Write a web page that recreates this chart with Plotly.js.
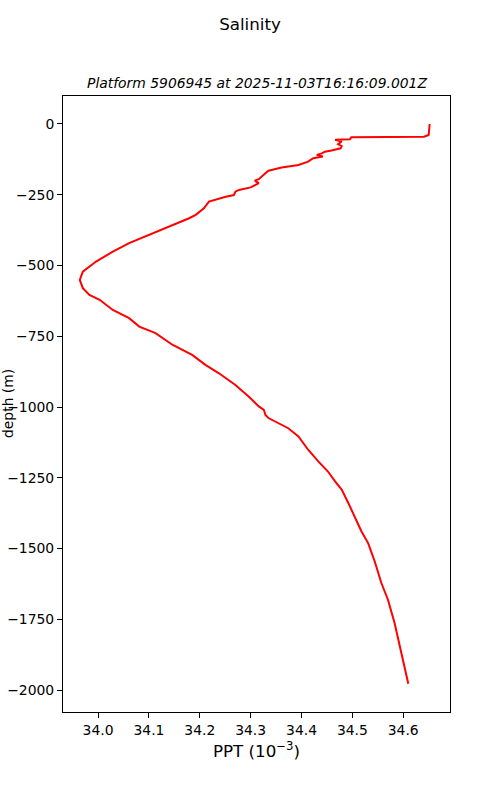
<!DOCTYPE html>
<html>
<head>
<meta charset="utf-8">
<script src="https://cdn.plot.ly/plotly-3.0.1.min.js"></script>
<style>html,body{margin:0;padding:0;background:#fff;}#chart{width:500px;height:800px;}</style>
</head>
<body>
<div id="chart"></div>
<script>
const depth = [0, -39, -45, -47, -54, -56, -62, -71, -78, -86, -94, -98, -104, -109, -115, -121, -133, -145, -154, -165, -174, -195, -200, -209, -224, -233, -239, -251, -257, -274, -298, -321, -333, -363, -386, -421, -451, -486, -522, -551, -580, -604, -621, -657, -686, -716, -739, -780, -816, -851, -880, -922, -963, -998, -1010, -1028, -1039, -1057, -1075, -1104, -1151, -1192, -1228, -1263, -1292, -1339, -1387, -1440, -1481, -1546, -1622, -1681, -1763, -1869, -1916, -1978];
const salinity = [34.652, 34.650, 34.641, 34.498, 34.495, 34.466, 34.479, 34.472, 34.479, 34.477, 34.459, 34.446, 34.440, 34.430, 34.442, 34.423, 34.413, 34.394, 34.361, 34.335, 34.329, 34.316, 34.308, 34.316, 34.300, 34.277, 34.270, 34.267, 34.251, 34.218, 34.208, 34.192, 34.179, 34.139, 34.107, 34.061, 34.029, 33.996, 33.970, 33.964, 33.970, 33.983, 34.003, 34.029, 34.061, 34.081, 34.113, 34.146, 34.185, 34.211, 34.237, 34.270, 34.296, 34.316, 34.326, 34.329, 34.335, 34.355, 34.374, 34.394, 34.413, 34.433, 34.452, 34.466, 34.479, 34.492, 34.505, 34.518, 34.531, 34.544, 34.557, 34.570, 34.583, 34.596, 34.602, 34.610];
const xTicks = [34.0, 34.1, 34.2, 34.3, 34.4, 34.5, 34.6];
const yTicks = [0, -250, -500, -750, -1000, -1250, -1500, -1750, -2000];
const suptitle = 'Salinity';
const subtitle = 'Platform 5906945 at 2025-11-03T16:16:09.001Z';
const xLabel = 'PPT (10<sup>\u22123</sup>)';
const yLabel = 'depth (m)';

const F = 'DejaVu Sans, sans-serif';
const trace = {
  x: salinity, y: depth, type: 'scatter', mode: 'lines',
  line: {color: '#ff0000', width: 2}, hoverinfo: 'skip'
};
const layout = {
  width: 500, height: 800,
  margin: {l: 63, r: 50, t: 96, b: 88, pad: 0},
  paper_bgcolor: '#fff', plot_bgcolor: '#fff',
  showlegend: false,
  font: {family: F, color: '#000', size: 13},
  title: {text: suptitle, font: {family: F, size: 16.7, color: '#000'},
    xref: 'container', yref: 'container', x: 0.5, y: 1 - 24/800, xanchor: 'center', yanchor: 'middle'},
  xaxis: {
    range: [33.931, 34.692], tickvals: xTicks, ticktext: xTicks.map(v => v.toFixed(1)),
    showgrid: false, zeroline: false, showline: true, mirror: true, linecolor: '#000', linewidth: 1,
    ticks: 'outside', ticklen: 5, tickwidth: 1, tickcolor: '#000',
    tickfont: {family: F, size: 13.9, color: '#000'},
    title: {text: xLabel, font: {family: F, size: 16.7, color: '#000'}, standoff: 8}
  },
  yaxis: {
    range: [-2077.7, 98.9], tickvals: yTicks, ticktext: yTicks.map(v => v < 0 ? '\u2212' + Math.abs(v) : String(v)),
    showgrid: false, zeroline: false, showline: true, mirror: true, linecolor: '#000', linewidth: 1,
    ticks: 'outside', ticklen: 5, tickwidth: 1, tickcolor: '#000',
    tickfont: {family: F, size: 13.9, color: '#000'}
  },
  annotations: [
    {text: '<i>' + subtitle + '</i>', xref: 'paper', yref: 'paper', x: 0.5, y: 1, yshift: 13,
     xanchor: 'center', yanchor: 'middle', showarrow: false, font: {family: F, size: 13.9, color: '#000'}},
    {text: yLabel, xref: 'paper', yref: 'paper', x: (8 - 63) / 387, y: 0.5, xanchor: 'center', yanchor: 'middle',
     textangle: -90, showarrow: false, font: {family: F, size: 13.9, color: '#000'}}
  ]
};
Plotly.newPlot('chart', [trace], layout, {displayModeBar: false, staticPlot: true});
</script>
</body>
</html>
